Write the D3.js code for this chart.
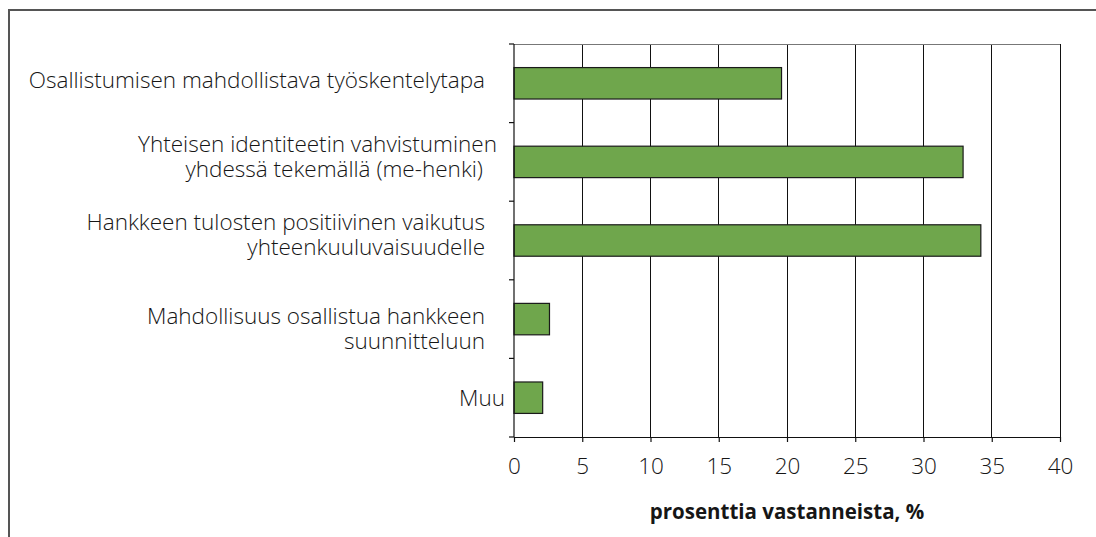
<!DOCTYPE html>
<html><head><meta charset="utf-8">
<script src="https://cdn.jsdelivr.net/npm/d3@7"></script>
<style>
html,body{margin:0;padding:0;background:#fff;}
svg{display:block;font-family:"Open Sans","Noto Sans",sans-serif;}
</style></head>
<body>
<svg id="chart" width="1096" height="537"></svg>
<script>
const categories = [
  ["Osallistumisen mahdollistava työskentelytapa"],
  ["Yhteisen identiteetin vahvistuminen", "yhdessä tekemällä (me-henki)"],
  ["Hankkeen tulosten positiivinen vaikutus", "yhteenkuuluvaisuudelle"],
  ["Mahdollisuus osallistua hankkeen", "suunnitteluun"],
  ["Muu"]
];
const values = [19.6, 32.9, 34.2, 2.6, 2.1];
const xTicks = [0, 5, 10, 15, 20, 25, 30, 35, 40];
const xTitle = "prosenttia vastanneista, %";

const svg = d3.select("#chart");
const m = {left: 514, right: 1060, top: 44, bottom: 437};
const FS = 22.5;
const txt = "#161616";

// outer frame
svg.append("path").attr("d", "M9,537 V10 H1096")
  .attr("fill", "none").attr("stroke", "#555").attr("stroke-width", 2);

const x = d3.scaleLinear().domain([0, 40]).range([m.left, m.right]);
const y = d3.scaleBand().domain(d3.range(categories.length))
  .range([m.top, m.bottom]).paddingInner(0.6).paddingOuter(0.3);
const yb = d3.scaleBand().domain(d3.range(categories.length)).range([m.top, m.bottom]);

// gridlines
svg.append("g").selectAll("line").data(xTicks.slice(1)).join("line")
  .attr("x1", d => x(d)).attr("x2", d => x(d))
  .attr("y1", m.top).attr("y2", m.bottom)
  .attr("stroke", "#111").attr("stroke-width", 1).attr("shape-rendering", "crispEdges");
// top border of plot
svg.append("line").attr("x1", m.left).attr("x2", m.right).attr("y1", m.top).attr("y2", m.top)
  .attr("stroke", "#777").attr("stroke-width", 1).attr("shape-rendering", "crispEdges");

// bars
svg.append("g").selectAll("rect").data(values).join("rect")
  .attr("x", x(0)).attr("y", (d, i) => y(i))
  .attr("width", d => x(d) - x(0)).attr("height", y.bandwidth())
  .attr("fill", "#6fa64c").attr("stroke", "#1a1a1a").attr("stroke-width", 1.2);

// y axis line & ticks
svg.append("line").attr("x1", m.left).attr("x2", m.left).attr("y1", m.top).attr("y2", m.bottom)
  .attr("stroke", "#111").attr("stroke-width", 1.2);
const yTickPos = d3.range(categories.length).map(i => yb(i)).concat([m.bottom]);
svg.append("g").selectAll("line").data(yTickPos).join("line")
  .attr("x1", m.left - 5).attr("x2", m.left).attr("y1", d => d).attr("y2", d => d)
  .attr("stroke", "#111").attr("stroke-width", 1.2);

// x axis
const xAxis = svg.append("g").attr("transform", `translate(0,${m.bottom})`)
  .call(d3.axisBottom(x).tickValues(xTicks).tickSize(5).tickPadding(16).tickSizeOuter(0));
xAxis.select(".domain").attr("stroke", "#111").attr("stroke-width", 1.2);
xAxis.selectAll(".tick line").attr("stroke", "#111").attr("stroke-width", 1.2);
xAxis.selectAll(".tick text").attr("font-size", FS).attr("fill", txt).attr("font-weight", 300)
  .attr("font-family", '"Open Sans","Noto Sans",sans-serif');

// category labels
const lineH = 25;
const labelX = 485;
const nudgeX = {"Yhteisen identiteetin vahvistuminen": 12, "yhdessä tekemällä (me-henki)": -2, "Muu": 20};
const nudgeY = [-3, -5, -6, 10, 0];
const lab = svg.append("g").attr("font-size", FS).attr("font-weight", 300)
  .attr("fill", txt).attr("text-anchor", "end");
categories.forEach((lines, i) => {
  const cy = yb(i) + yb.bandwidth() / 2 + nudgeY[i];
  const t = lab.append("text").attr("y", cy - (lines.length - 1) * lineH / 2);
  lines.forEach((ln, j) => {
    t.append("tspan").attr("x", labelX + (nudgeX[ln] || 0))
      .attr("dy", j === 0 ? "0.35em" : lineH).text(ln);
  });
});

// x title
svg.append("text").attr("x", (m.left + m.right) / 2).attr("y", 519)
  .attr("text-anchor", "middle").attr("font-size", 20.5).attr("font-weight", "bold")
  .attr("fill", txt).text(xTitle);
</script>
</body></html>
